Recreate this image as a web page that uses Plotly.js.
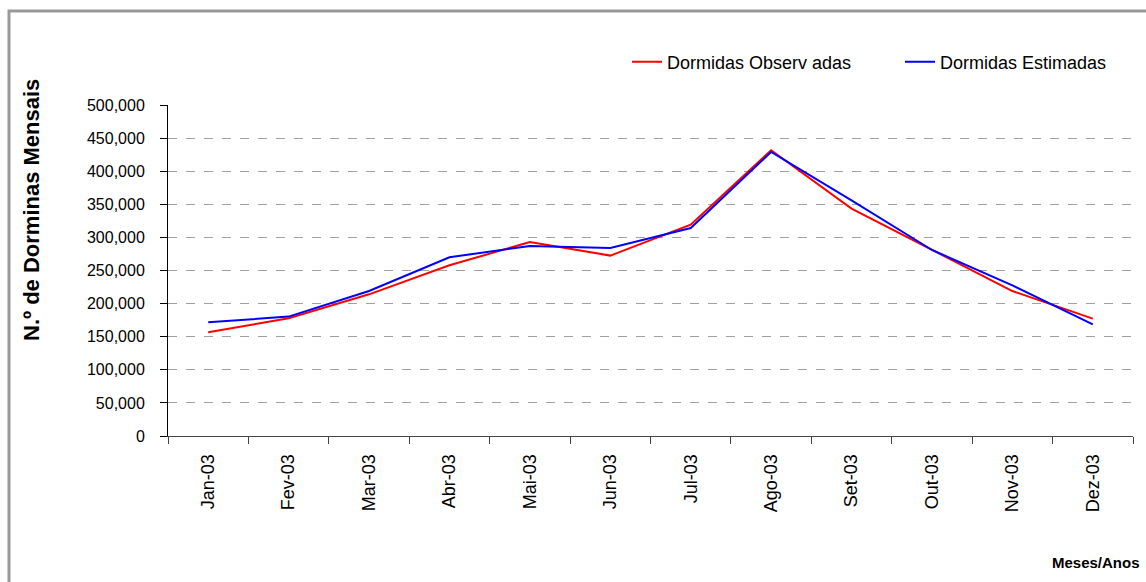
<!DOCTYPE html>
<html>
<head>
<meta charset="utf-8">
<script src="https://cdn.plot.ly/plotly-3.0.1.min.js"></script>
<style>
html,body{margin:0;padding:0;background:#fff;}
#chart{width:1146px;height:582px;}
</style>
</head>
<body>
<div id="chart"></div>
<script>
const months = ["Jan-03","Fev-03","Mar-03","Abr-03","Mai-03","Jun-03","Jul-03","Ago-03","Set-03","Out-03","Nov-03","Dez-03"];
const observadas = [156600,177800,214000,257900,293000,272500,319300,431600,343500,281600,219000,177300];
const estimadas  = [171700,180400,219000,270000,287000,284000,314200,429000,356000,281000,227600,168700];
const yTickVals = [0,50000,100000,150000,200000,250000,300000,350000,400000,450000,500000];
const yTickText = ["0","50,000","100,000","150,000","200,000","250,000","300,000","350,000","400,000","450,000","500,000"];

const font = "Liberation Sans, Arial, sans-serif";
const W = 1146, H = 582;
const L = 168, R = 13, T = 105, B = 146;
const pw = W - L - R, ph = H - T - B;
const px = x => (x - L) / pw;
const py = y => (H - B - y) / ph;

const traces = [
  {x: months, y: observadas, name: "Dormidas Observ adas", type: "scatter", mode: "lines",
   line: {color: "#ff0000", width: 2}},
  {x: months, y: estimadas, name: "Dormidas Estimadas", type: "scatter", mode: "lines",
   line: {color: "#0000ff", width: 2}}
];

const layout = {
  width: W, height: H,
  margin: {l: L, r: R, t: T, b: B, pad: 0, autoexpand: false},
  paper_bgcolor: "#ffffff", plot_bgcolor: "#ffffff",
  font: {family: font, size: 14, color: "#000"},
  showlegend: true,
  legend: {orientation: "h", x: px(627), xanchor: "left", y: py(62), yanchor: "middle",
           font: {family: font, size: 18, color: "#000"}, entrywidth: 228, entrywidthmode: "pixels",
           bgcolor: "rgba(0,0,0,0)", traceorder: "normal"},
  xaxis: {type: "category", range: [-0.5, 11.5], showgrid: false, zeroline: false,
          showline: true, linecolor: "#444", linewidth: 1, automargin: false,
          ticks: "outside", ticklen: 7, tickcolor: "#444", tickson: "boundaries",
          tickangle: -90, tickfont: {family: font, size: 18, color: "#000"}, ticklabelstandoff: 10},
  yaxis: {range: [0, 500000], tickvals: yTickVals, ticktext: yTickText, automargin: false,
          showgrid: true, gridcolor: "#a0a0a0", griddash: "dash", gridwidth: 1,
          zeroline: false, showline: true, linecolor: "#000", linewidth: 1,
          ticks: "outside", ticklen: 7, tickcolor: "#000",
          tickfont: {family: font, size: 16, color: "#000"}, ticklabelstandoff: 12},
  annotations: [
    {text: "<b>N.º de Dorminas Mensais</b>", textangle: -90, xref: "paper", yref: "paper",
     x: px(31), y: py(210), xanchor: "center", yanchor: "middle", showarrow: false,
     font: {family: font, size: 22, color: "#000"}},
    {text: "<b>Meses/Anos</b>", xref: "paper", yref: "paper",
     x: px(1142), y: py(562), xanchor: "right", yanchor: "middle", showarrow: false,
     font: {family: font, size: 15, color: "#000"}}
  ],
  shapes: [
    {type: "rect", xref: "paper", yref: "paper", x0: px(9), x1: px(1300), y0: py(800), y1: py(11),
     line: {color: "#999999", width: 3}, fillcolor: "rgba(0,0,0,0)", layer: "below"}
  ]
};

Plotly.newPlot("chart", traces, layout, {staticPlot: true, displayModeBar: false});
</script>
</body>
</html>
